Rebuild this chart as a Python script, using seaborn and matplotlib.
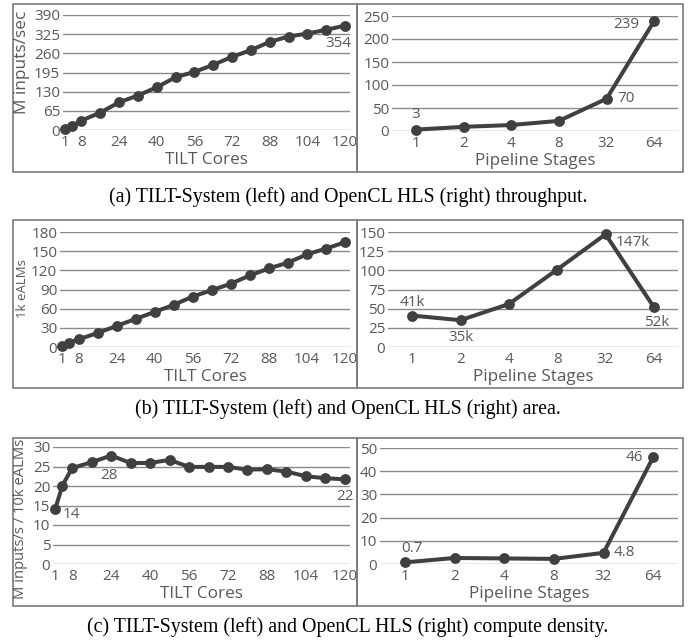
import seaborn as sns
import matplotlib.pyplot as plt
from matplotlib.patches import Rectangle

# data
cores = [1, 4, 8, 16, 24, 32, 40, 48, 56, 64, 72, 80, 88, 96, 104, 112, 120]
tilt_throughput = [2, 14, 32, 59, 94, 117, 145, 179, 197, 221, 248, 271, 299, 317, 327, 340, 354]
tilt_area = [2, 7, 12, 22, 33, 44, 55, 66, 79, 89, 99, 112, 123, 132, 145, 154, 164]
tilt_density = [14, 20.1, 24.6, 26.1, 27.8, 25.9, 25.9, 26.7, 24.9, 24.9, 24.9, 24.2, 24.3, 23.7, 22.5, 22, 21.7]

stages = ['1', '2', '4', '8', '32', '64']
hls_throughput = [3, 9, 13, 22, 70, 239]
hls_area = [41, 35, 56, 101, 147, 52]
hls_density = [0.7, 2.6, 2.4, 2.2, 4.8, 46]

core_ticks = [1, 8, 24, 40, 56, 72, 88, 104, 120]
yt_tilt_throughput = [0, 65, 130, 195, 260, 325, 390]
yt_hls_throughput = [0, 50, 100, 150, 200, 250]
yt_tilt_area = [0, 30, 60, 90, 120, 150, 180]
yt_hls_area = [0, 25, 50, 75, 100, 125, 150]
yt_tilt_density = [0, 5, 10, 15, 20, 25, 30]
yt_hls_density = [0, 10, 20, 30, 40, 50]

captions = ['(a) TILT-System (left) and OpenCL HLS (right) throughput.',
            '(b) TILT-System (left) and OpenCL HLS (right) area.',
            '(c) TILT-System (left) and OpenCL HLS (right) compute density.']

W, H = 696, 644
LINE = '#404040'
GRID = '#8a8a8a'
TXT = '#595959'
FONT = 'Open Sans'
FS = 11          # tick labels and value labels
FS_XLAB = 12.3   # x axis titles


def px_rect(x0, y0, x1, y1):
    return [x0 / W, 1 - y1 / H, (x1 - x0) / W, (y1 - y0) / H]


def style_axes(ax, yticks):
    ax.set_ylim(yticks[0], yticks[-1])
    ax.set_yticks(yticks)
    for s in ax.spines.values():
        s.set_visible(False)
    ax.grid(axis='y', color=GRID, linewidth=1.0)
    ax.grid(axis='x', visible=False)
    ax.tick_params(axis='y', length=0, pad=2, labelsize=FS, labelcolor=TXT)
    ax.tick_params(axis='x', length=0, pad=3.5, labelsize=FS, labelcolor=TXT)
    for lab in ax.get_xticklabels() + ax.get_yticklabels():
        lab.set_fontfamily(FONT)
    ax.set_xlabel('')
    ax.set_ylabel('')


def fig_label(fig, x, y, text, size, rot=0):
    fig.text(x / W, 1 - y / H, text, ha='center', va='center', rotation=rot,
             fontsize=size, color=TXT, fontfamily=FONT)


def note(ax, x, y, text, dx, dy):
    ax.annotate(text, (x, y), xytext=(dx, dy), textcoords='offset pixels',
                ha='center', va='center', fontsize=FS, color=TXT,
                fontfamily=FONT, annotation_clip=False)


def main():
    sns.set_style('white')
    fig = plt.figure(figsize=(W / 100, H / 100), dpi=100)

    line_kw = dict(color=LINE, linewidth=2.9, marker='o', markersize=7.8,
                   markeredgewidth=0, clip_on=False)

    # panel boxes
    for y0, y1 in [(4, 172), (220, 388), (438, 606)]:
        for x0, x1 in [(13, 357), (357, 683)]:
            fig.patches.append(Rectangle((x0 / W, 1 - y1 / H), (x1 - x0) / W, (y1 - y0) / H,
                                         transform=fig.transFigure, fill=False,
                                         edgecolor='#7a7a7a', linewidth=1.2))

    left_specs = [
        ((63, 15, 350, 130), tilt_throughput, yt_tilt_throughput, 'M inputs/sec', (22, 62), 12.4),
        ((60, 232, 350, 347), tilt_area, yt_tilt_area, '1k eALMs', (22, 289), 9.5),
        ((53, 447, 350, 564), tilt_density, yt_tilt_density, 'M inputs/s / 10k eALMs', (21, 519), 10.6),
    ]
    right_specs = [
        ((392, 16, 678, 131), hls_throughput, yt_hls_throughput),
        ((388, 232, 678, 347), hls_area, yt_hls_area),
        ((380, 448, 678, 564), hls_density, yt_hls_density),
    ]

    left_axes = []
    for box, vals, yt, ylab, (lx, ly), ysize in left_specs:
        ax = fig.add_axes(px_rect(*box))
        sns.lineplot(x=cores, y=vals, ax=ax, **line_kw)
        ax.set_xlim(0.15, 122.1)
        ax.set_xticks(core_ticks)
        style_axes(ax, yt)
        fig_label(fig, lx, ly, ylab, ysize, rot=90)
        fig_label(fig, (box[0] + box[2]) / 2, box[3] + 30, 'TILT Cores', FS_XLAB)
        left_axes.append(ax)

    right_axes = []
    for box, vals, yt in right_specs:
        ax = fig.add_axes(px_rect(*box))
        sns.pointplot(x=stages, y=vals, order=stages, ax=ax, errorbar=None, **line_kw)
        ax.set_xlim(-0.5, len(stages) - 0.5)
        style_axes(ax, yt)
        fig_label(fig, (box[0] + box[2]) / 2, box[3] + 30, 'Pipeline Stages', FS_XLAB)
        right_axes.append(ax)

    # value labels
    note(left_axes[0], cores[-1], tilt_throughput[-1], '354', -7, -18)
    note(right_axes[0], 0, hls_throughput[0], '3', 0, 15)
    note(right_axes[0], 4, hls_throughput[4], '70', 19, 0)
    note(right_axes[0], 5, hls_throughput[5], '239', -28, -3)

    note(right_axes[1], 0, hls_area[0], '41k', 0, 13)
    note(right_axes[1], 1, hls_area[1], '35k', 0, -17)
    note(right_axes[1], 4, hls_area[4], '147k', 27, -8)
    note(right_axes[1], 5, hls_area[5], '52k', 3, -15)

    note(left_axes[2], cores[0], tilt_density[0], '14', 16, -5)
    note(left_axes[2], cores[4], tilt_density[4], '28', -2, -20)
    note(left_axes[2], cores[-1], tilt_density[-1], '22', 0, -17)
    note(right_axes[2], 0, hls_density[0], '0.7', 7, 14)
    note(right_axes[2], 4, hls_density[4], '4.8', 21, 0)
    note(right_axes[2], 5, hls_density[5], '46', -19, 0)

    for cap, cy in zip(captions, [197, 409, 627]):
        fig.text(0.5, 1 - cy / H, cap, ha='center', va='center', fontsize=14.3,
                 fontfamily='Liberation Serif', color='black')

    fig.savefig('out.png', dpi=100)


if __name__ == '__main__':
    main()
